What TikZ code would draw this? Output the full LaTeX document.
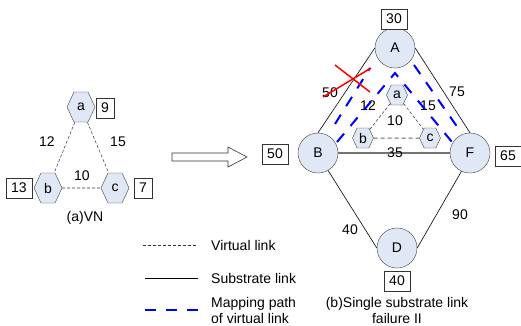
\documentclass[tikz,border=0pt]{standalone}
\usepackage{fontspec}
\setmainfont{Liberation Sans}
\usetikzlibrary{shapes.geometric, shapes.symbols, arrows.meta, positioning, calc}
\definecolor{nodefill}{RGB}{225, 232, 245}
\definecolor{mapblue}{RGB}{0, 0, 255}
\definecolor{cutred}{RGB}{255, 0, 0}
\tikzset{
    snode/.style={circle, draw=black!75, fill=nodefill, minimum size=40pt, inner sep=0pt, font=\fontsize{14}{16}\selectfont},
    vnode/.style={signal, signal to=east and west, signal pointer angle=130, draw=black!75, fill=nodefill, minimum width=28pt, minimum height=30pt, inner sep=0pt, font=\fontsize{14}{16}\selectfont},
    smallvnode/.style={vnode, minimum width=21pt, minimum height=20pt},
    capbox/.style={rectangle, draw=black!80, fill=white, minimum width=16pt, minimum height=20pt, inner xsep=5pt, inner ysep=2pt, font=\fontsize{14}{16}\selectfont},
    lbl/.style={inner sep=0pt, font=\fontsize{14}{16}\selectfont},
    vlink/.style={black!80, line width=0.5pt, dash pattern=on 3pt off 2pt},
    vlinkthick/.style={black!60, line width=1pt, dash pattern=on 4pt off 3pt},
    slink/.style={black, line width=0.6pt},
    slinkgray/.style={black!55, line width=1.5pt},
    maplink/.style={mapblue, line width=2pt, dash pattern=on 11pt off 10pt},
    cutline/.style={cutred, line width=1.5pt}
}

\begin{document}
\begin{tikzpicture}[x=1pt, y=-1pt]
    \useasboundingbox (0,0) rectangle (521,325);

    % (a) virtual network
    \node[vnode] (va) at (81,107) {a};
    \node[vnode] (vb) at (48,188) {b};
    \node[vnode] (vc) at (115,188) {c};
    \node[capbox] (va-cap) at (105,108) {9};
    \node[capbox] (vb-cap) at (19,188) {13};
    \node[capbox] (vc-cap) at (143,188) {7};
    \draw[vlink] (va) -- (vb);
    \draw[vlink] (va) -- (vc);
    \draw[vlink, line width=0.8pt] (vb) -- (vc);
    \node[lbl] (vab) at (47,142) {12};
    \node[lbl] (vac) at (118,142) {15};
    \node[lbl] (vbc) at (82,176) {10};
    \node[lbl] (vn-title) at (85,218) {(a)VN};

    % Transition arrow
    \draw[black!80, fill=white, line width=0.6pt] (172,153) -- (228,153) -- (228,147) -- (247,157) -- (228,167) -- (228,161) -- (172,161) -- cycle;

    % (b) substrate network
    \node[snode] (sa) at (395,48) {A};
    \node[snode] (sb) at (318,153) {B};
    \node[snode] (sf) at (470,153) {F};
    \node[snode] (sd) at (397,248) {D};
    \node[capbox] (sa-cap) at (394,19) {30};
    \node[capbox] (sb-cap) at (275,154) {50};
    \node[capbox] (sf-cap) at (508,156) {65};
    \node[capbox] (sd-cap) at (397,281) {40};
    \draw[slink] (sa.west) -- (sb.north);
    \draw[slink] (sa.east) -- (sf.north);
    \draw[slinkgray] (sb) -- (sf);
    \draw[slink] (sb.-60) -- (sd.west);
    \draw[slink] (sf.-115) -- (sd.east);
    \node[lbl] (sab) at (330,93) {50};
    \node[lbl] (saf) at (457,92) {75};
    \node[lbl] (sbf) at (395,153) {35};
    \node[lbl] (sbd) at (350,230) {40};
    \node[lbl] (sfd) at (460,215) {90};

    % Embedded virtual nodes
    \node[smallvnode] (ia) at (397,95) {a};
    \node[smallvnode] (ib) at (363,138) {b};
    \node[smallvnode] (ic) at (430,138) {c};
    \draw[vlink] (ia) -- (ib);
    \draw[vlink] (ia) -- (ic);
    \draw[vlinkthick] (ib) -- (ic);
    \node[lbl] (iab) at (368,106) {12};
    \node[lbl] (iac) at (428,106) {15};
    \node[lbl] (ibc) at (395,121) {10};

    % Mapping paths
    \coordinate (m1s) at (335,124);
    \coordinate (m1e) at (370,68);
    \coordinate (m2s) at (337,142);
    \coordinate (m2m) at (395,73);
    \coordinate (m2e) at (452,142);
    \coordinate (m3s) at (414,65);
    \coordinate (m3e) at (458,128);
    \draw[maplink] (m1s) -- (m1e);
    \draw[maplink] (m2s) -- (m2m) -- (m2e);
    \draw[maplink] (m3s) -- (m3e);

    % Failed link
    \coordinate (x1s) at (335,65);
    \coordinate (x1e) at (370,92);
    \coordinate (x2s) at (323,97);
    \coordinate (x2e) at (371,68);
    \draw[cutline] (x1s) -- (x1e);
    \draw[cutline] (x2s) -- (x2e);

    \node[lbl, align=center] (sn-title) at (397,310) {(b)Single substrate link\\failure II};

    % Legend
    \coordinate (lg1s) at (143,245);
    \coordinate (lg1e) at (198,245);
    \coordinate (lg2s) at (145,278);
    \coordinate (lg2e) at (198,278);
    \coordinate (lg3s) at (145,310);
    \coordinate (lg3e) at (200,310);
    \draw[vlink] (lg1s) -- (lg1e);
    \draw[slink] (lg2s) -- (lg2e);
    \draw[maplink] (lg3s) -- (lg3e);
    \node[lbl, anchor=west] (lg1) at (211,245) {Virtual link};
    \node[lbl, anchor=west] (lg2) at (211,278) {Substrate link};
    \node[lbl, anchor=west, align=left] (lg3) at (211,310) {Mapping path\\of virtual link};
\end{tikzpicture}
\end{document}
